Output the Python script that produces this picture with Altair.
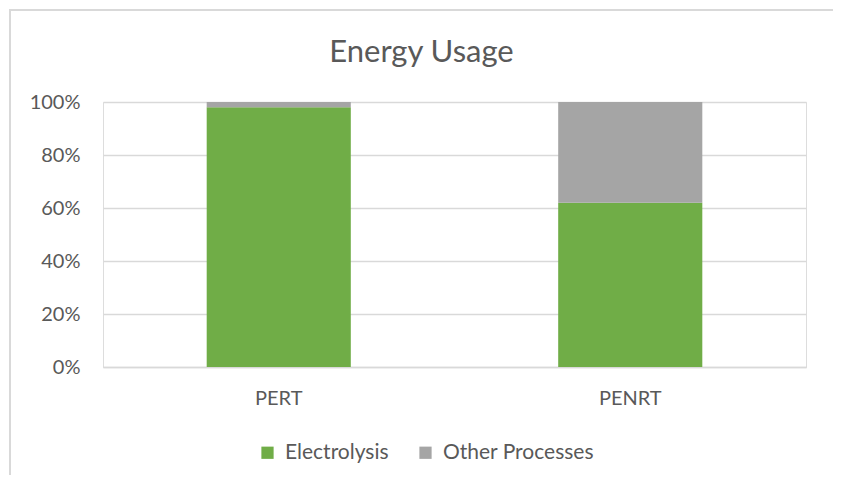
import altair as alt
import pandas as pd

categories = ["PERT", "PENRT"]
electrolysis = [0.98, 0.62]
other = [0.02, 0.38]
series_names = ["Electrolysis", "Other Processes"]
series_colors = ["#70ad47", "#a5a5a5"]

rows = []
for i, c in enumerate(categories):
    rows.append({"category": c, "series": series_names[0], "value": electrolysis[i], "order": 0})
    rows.append({"category": c, "series": series_names[1], "value": other[i], "order": 1})
df = pd.DataFrame(rows)

FONT = "Lato"
TXT = "#595959"

bars = alt.Chart(df).mark_bar().encode(
    x=alt.X("category:N", sort=categories, title=None,
            scale=alt.Scale(paddingInner=0.59, paddingOuter=0.295),
            axis=alt.Axis(labelAngle=0, ticks=False, domain=True, domainColor="#d9d9d9",
                          domainWidth=1.5, labelPadding=21, labelFontSize=20,
                          labelColor=TXT, labelFont=FONT, grid=False)),
    y=alt.Y("value:Q", stack="zero", title=None,
            scale=alt.Scale(domain=[0, 1], nice=False),
            axis=alt.Axis(format="%", values=[0, 0.2, 0.4, 0.6, 0.8, 1.0], ticks=False,
                          domain=False, grid=True, gridColor="#d9d9d9", gridWidth=1.5,
                          labelPadding=23, labelFontSize=20, labelColor=TXT, labelFont=FONT)),
    color=alt.Color("series:N", sort=series_names,
                    scale=alt.Scale(domain=series_names, range=series_colors),
                    legend=alt.Legend(title=None, orient="none", legendX=154, legendY=340,
                                      direction="horizontal", symbolType="square",
                                      symbolSize=150, symbolStrokeWidth=0, labelFontSize=21,
                                      labelFont=FONT, labelColor=TXT, labelOffset=7,
                                      columnPadding=26, symbolOpacity=1)),
    order=alt.Order("order:Q", sort="ascending"),
)

border = alt.Chart(alt.Data(values=[{}])).mark_rect(
    filled=False, stroke="#d9d9d9", strokeWidth=2, clip=False
).encode(
    x=alt.value(-93), x2=alt.value(731), y=alt.value(-92), y2=alt.value(440)
)

chart = alt.layer(border, bars).properties(
    width=703, height=265,
    title=alt.TitleParams("Energy Usage", fontSize=31, font=FONT, color=TXT,
                          fontWeight="normal", anchor="middle", offset=-60, dx=-33),
    autosize=alt.AutoSizeParams(type="none"),
    padding={"left": 95, "top": 94, "right": 27, "bottom": 108},
).configure_view(stroke=None).configure(background="white")

chart.save("out.html", embed_options={"renderer": "svg", "actions": False})
